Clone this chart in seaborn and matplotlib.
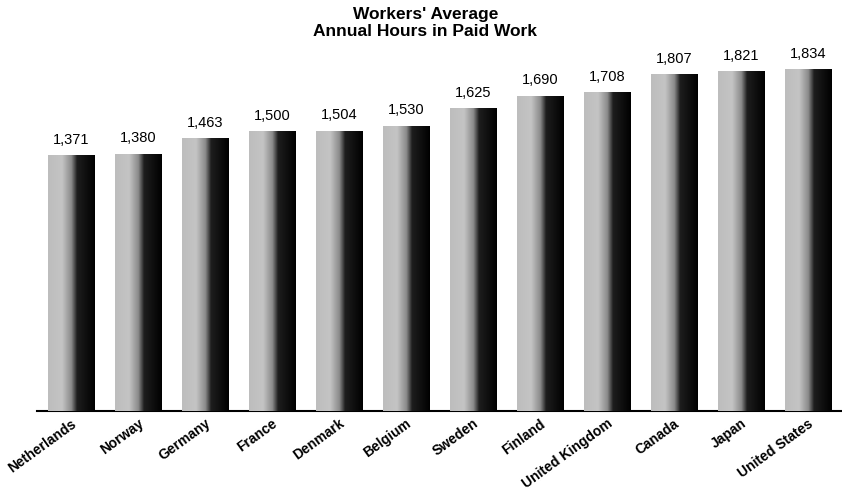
import numpy as np
import pandas as pd
import matplotlib
matplotlib.use("Agg")
import matplotlib.pyplot as plt
import seaborn as sns
from matplotlib.colors import LinearSegmentedColormap

countries = ["Netherlands", "Norway", "Germany", "France", "Denmark", "Belgium",
             "Sweden", "Finland", "United Kingdom", "Canada", "Japan", "United States"]
hours = [1371, 1380, 1463, 1500, 1504, 1530, 1625, 1690, 1708, 1807, 1821, 1834]
value_labels = ["1,371", "1,380", "1,463", "1,500", "1,504", "1,530",
                "1,625", "1,690", "1,708", "1,807", "1,821", "1,834"]

df = pd.DataFrame({"country": countries, "hours": hours})

sns.set_style("white")
plt.rcParams["font.family"] = ["Liberation Sans", "DejaVu Sans"]
plt.rcParams["text.color"] = "black"

fig = plt.figure(figsize=(8.42, 5.0), dpi=100)
ax = fig.add_axes([0.0445, 0.178, 0.9545, 0.746])

sns.barplot(data=df, x="country", y="hours", ax=ax, width=0.69,
            color="#999999", edgecolor="none", saturation=1)

ax.set_ylim(0, 2000)
ax.set_xlim(-0.5, len(countries) - 0.5)

# gradient fill: light stippled gray on the left, black on the right
cmap = LinearSegmentedColormap.from_list(
    "barshade", [(0.0, "#bdbdbd"), (0.3, "#c4c4c4"), (0.5, "#8a8a8a"),
                 (0.62, "#1e1e1e"), (1.0, "#000000")])
grad = np.linspace(0, 1, 256).reshape(1, -1)
for patch in ax.patches:
    x0 = patch.get_x()
    w = patch.get_width()
    h = patch.get_height()
    im = ax.imshow(grad, extent=[x0, x0 + w, 0, h], aspect="auto",
                   cmap=cmap, origin="lower", zorder=3)
    im.set_clip_path(patch)
    patch.set_facecolor("none")

for i, (v, lab) in enumerate(zip(hours, value_labels)):
    ax.text(i, v + 45, lab, ha="center", va="bottom", fontsize=10.5, color="black")

for s in ["top", "right", "left"]:
    ax.spines[s].set_visible(False)
ax.spines["bottom"].set_color("black")
ax.spines["bottom"].set_linewidth(1.5)
ax.set_yticks([])
ax.set_ylabel("")
ax.set_xlabel("")
ax.tick_params(axis="x", length=0, pad=4)
ax.set_xticks(range(len(countries)))
ax.set_xticklabels(countries, rotation=36, ha="right", rotation_mode="anchor",
                   fontsize=10, fontweight="bold", color="black")

fig.text(0.505, 0.985, "Workers' Average\nAnnual Hours in Paid Work",
         ha="center", va="top", fontsize=12.5, fontweight="bold", linespacing=1.1,
         color="black")

fig.savefig("out.png", dpi=100)
